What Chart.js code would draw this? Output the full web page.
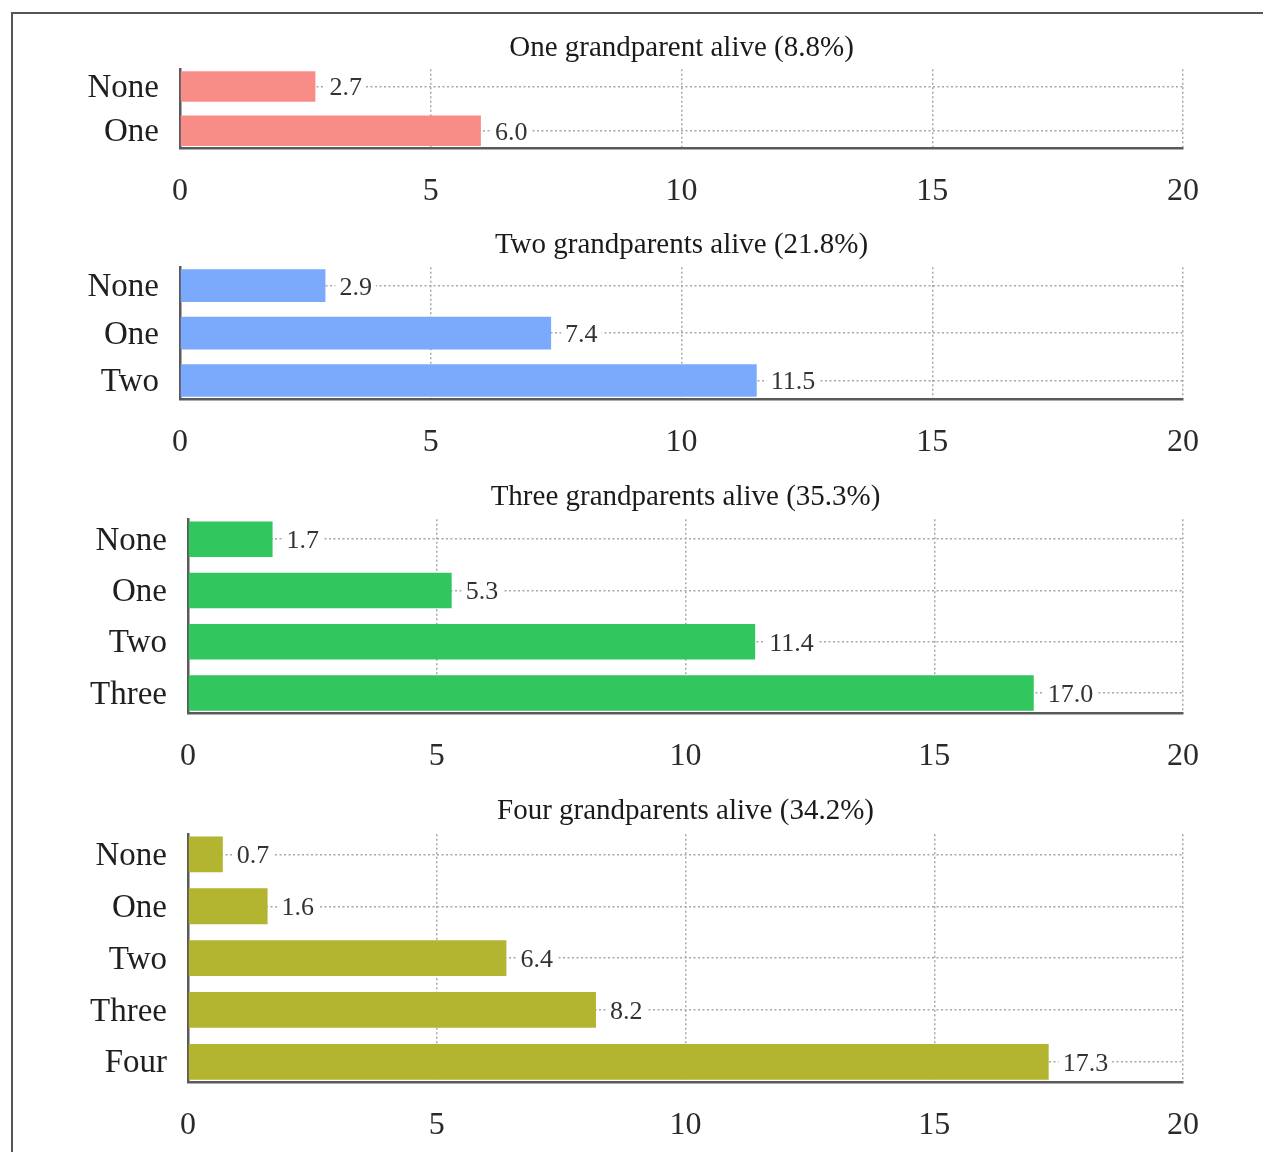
<!DOCTYPE html>
<html>
<head>
<meta charset="utf-8">
<script src="https://cdn.jsdelivr.net/npm/chart.js@4.4.1/dist/chart.umd.min.js"></script>
<style>
    html, body { margin: 0; padding: 0; background: #ffffff; }
    body { width: 1263px; height: 1152px; position: relative; overflow: hidden; }
    #frame {
        position: absolute; left: 11px; top: 12px; width: 1300px; height: 1200px;
        border-left: 2px solid #555555; border-top: 2px solid #555555;
    }
    .plot_box { position: absolute; left: 0; width: 1263px; }
    #box_one { top: 21px; height: 197px; }
    #box_two { top: 218px; height: 251px; }
    #box_three { top: 470px; height: 313px; }
    #box_four { top: 784px; height: 368px; }
</style>
</head>
<body>
<div id="frame"></div>
<div class="plot_box" id="box_one"><canvas id="one_canvas"></canvas></div>
<div class="plot_box" id="box_two"><canvas id="two_canvas"></canvas></div>
<div class="plot_box" id="box_three"><canvas id="three_canvas"></canvas></div>
<div class="plot_box" id="box_four"><canvas id="four_canvas"></canvas></div>
<script>
// values in % of respondents
const one_titles = "One grandparent alive (8.8%)";
const one_labels = ["None", "One"];
const one_values = [2.7, 6.0];

const two_titles = "Two grandparents alive (21.8%)";
const two_labels = ["None", "One", "Two"];
const two_values = [2.9, 7.4, 11.5];

const three_titles = "Three grandparents alive (35.3%)";
const three_labels = ["None", "One", "Two", "Three"];
const three_values = [1.7, 5.3, 11.4, 17.0];

const four_titles = "Four grandparents alive (34.2%)";
const four_labels = ["None", "One", "Two", "Three", "Four"];
const four_values = [0.7, 1.6, 6.4, 8.2, 17.3];

const x_ticks = [0, 5, 10, 15, 20];

const serif = "'Liberation Serif', 'Times New Roman', serif";

// value text right of each bar, on a white patch so the dotted line stops
const value_label_plugin = {
    id: "value_labels",
    afterDatasetsDraw(chart) {
        const ctx = chart.ctx;
        const meta = chart.getDatasetMeta(0);
        const values = chart.data.datasets[0].data;
        ctx.save();
        ctx.font = "26px " + serif;
        ctx.textBaseline = "middle";
        ctx.textAlign = "left";
        meta.data.forEach(function(bar, i) {
            const text = values[i].x.toFixed(1);
            const w = ctx.measureText(text).width;
            ctx.fillStyle = "#ffffff";
            ctx.fillRect(bar.x + 10, bar.y - 12, w + 8, 24);
            ctx.fillStyle = "#333333";
            ctx.fillText(text, bar.x + 14, bar.y + 2);
        });
        ctx.restore();
    }
};

function make_plot(canvas_id, title, labels, values, color, plot_left, title_gap) {
    let data = {
        datasets: [{
            label: title,
            data: values.map(function(v, i) { return {x: v, y: i}; }),
            backgroundColor: color,
            borderWidth: 0,
            categoryPercentage: 1.0,
            barPercentage: 0.69
        }]
    };

    let config = {
        type: 'bar',
        data: data,
        options: {
            indexAxis: 'y',
            responsive: true,
            maintainAspectRatio: false,
            animation: false,
            layout: {
                padding: {left: 0, right: 80, top: 0, bottom: 0}
            },
            plugins: {
                legend: {display: false},
                tooltip: {enabled: false},
                title: {
                    display: true,
                    text: title,
                    fullSize: false,
                    color: "#1a1a1a",
                    font: {family: serif, size: 29, weight: 'normal', lineHeight: 1.2},
                    padding: {top: 10, bottom: title_gap}
                }
            },
            scales: {
                x: {
                    type: 'linear',
                    min: 0,
                    max: 20,
                    afterBuildTicks: function(scale) {
                        scale.ticks = x_ticks.map(function(v) { return {value: v}; });
                    },
                    afterFit: function(scale) { scale.height = 70; },
                    grid: {
                        color: "#a8a8a8",
                        lineWidth: 1.5,
                        drawTicks: false
                    },
                    border: {display: true, color: "#5a5a5a", width: 2.5, dash: [2, 2.5]},
                    ticks: {
                        color: "#2a2a2a",
                        padding: 24,
                        font: {family: serif, size: 32}
                    }
                },
                y: {
                    type: 'linear',
                    reverse: true,
                    offset: false,
                    bounds: 'data',
                    min: -0.39,
                    max: labels.length - 1 + 0.39,
                    afterFit: function(scale) { scale.width = plot_left; },
                    afterBuildTicks: function(scale) {
                        scale.ticks = labels.map(function(name, i) { return {value: i}; });
                    },
                    grid: {
                        offset: false,
                        color: "#a8a8a8",
                        lineWidth: 1.5,
                        drawTicks: false
                    },
                    border: {display: true, color: "#5a5a5a", width: 2.5, dash: [2, 2.5]},
                    ticks: {
                        autoSkip: false,
                        color: "#1f1f1f",
                        padding: 21,
                        labelOffset: 2,
                        font: {family: serif, size: 33},
                        callback: function(value) {
                            return Number.isInteger(value) ? labels[value] : "";
                        }
                    }
                }
            }
        },
        plugins: [value_label_plugin]
    };

    return new Chart(document.getElementById(canvas_id), config);
}

make_plot("one_canvas", one_titles, one_labels, one_values, "#f88d88", 180, 3.4);
make_plot("two_canvas", two_titles, two_labels, two_values, "#7baafc", 180, 4.4);
make_plot("three_canvas", three_titles, three_labels, three_values, "#31c65e", 188, 4.4);
make_plot("four_canvas", four_titles, four_labels, four_values, "#b3b430", 188, 5.4);
</script>
</body>
</html>
